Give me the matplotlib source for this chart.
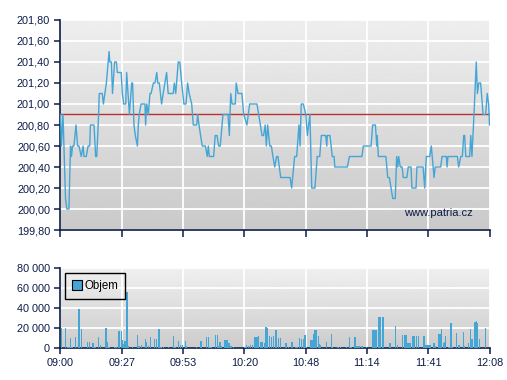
import matplotlib
matplotlib.use("Agg")
import matplotlib.pyplot as plt
import numpy as np
from matplotlib.ticker import FuncFormatter
from matplotlib.lines import Line2D

plt.rcParams['font.family'] = ['Liberation Sans', 'DejaVu Sans']

# price trace, minutes after 09:00
price_t = [0.0, 0.4, 1.1, 2.2, 2.8, 3.7, 4.4, 4.8, 5.3, 5.9, 6.8, 7.5, 8.1, 9.1, 9.9,
           10.3, 11.3, 12.1, 12.8, 13.1, 14.7, 15.4, 15.9, 16.7, 17.0, 18.3, 18.8, 20.1,
           21.3, 21.6, 22.3, 22.8, 23.7, 24.5, 24.9, 26.6, 27.1, 27.7, 28.6, 29.0, 30.2,
           31.2, 31.6, 32.2, 32.8, 33.7, 34.1, 34.5, 35.3, 37.0, 37.3, 37.8, 38.5, 39.2,
           39.7, 40.7, 41.4, 42.2, 42.6, 43.3, 44.3, 45.0, 46.5, 47.2, 49.4, 49.9, 50.5,
           51.6, 52.3, 53.1, 54.1, 55.0, 55.7, 56.4, 57.5, 58.2, 59.7, 60.1, 60.7, 61.4,
           62.1, 63.5, 64.3, 64.8, 65.2, 67.1, 67.8, 68.6, 69.3, 70.0, 71.2, 73.4, 74.0,
           74.6, 75.2, 76.6, 77.0, 77.8, 79.5, 80.3, 81.7, 82.9, 86.1, 87.6, 88.3, 89.0,
           89.7, 90.2, 90.8, 91.7, 92.4, 93.1, 93.9, 94.7, 95.3, 96.5, 100.6, 101.3, 102.6,
           103.5, 104.5, 105.0, 105.5, 106.4, 107.5, 108.2, 109.3, 110.1, 111.5, 112.5,
           113.6, 114.3, 116.2, 116.7, 116.9, 118.1, 119.1, 119.9, 120.2, 125.7, 126.6,
           132.1, 132.7, 136.1, 136.8, 138.0, 138.6, 138.8, 139.3, 142.6, 143.4, 144.1,
           145.6, 146.7, 147.3, 147.8, 148.2, 148.9, 149.7, 150.2, 151.8, 152.4, 153.6,
           154.0, 155.8, 156.2, 158.9, 159.6, 160.3, 161.8, 162.5, 163.7, 164.2, 166.6,
           167.2, 169.1, 169.4, 169.8, 173.9, 174.5, 175.4, 176.1, 176.7, 177.1, 177.6,
           179.3, 179.8, 180.3, 181.2, 182.2, 182.7, 183.3, 184.1, 185.2, 186.3, 187.0,
           187.6, 188.0]
price_v = [200.9, 200.6, 200.9, 200.1, 200.0, 200.0, 200.6, 200.5, 200.6, 200.6, 200.8,
           200.6, 200.6, 200.5, 200.6, 200.5, 200.5, 200.6, 200.6, 200.8, 200.8, 200.5,
           200.5, 200.9, 201.1, 201.1, 201.0, 201.2, 201.5, 201.4, 201.4, 201.1, 201.4,
           201.4, 201.3, 201.3, 201.1, 201.0, 201.0, 201.3, 200.9, 201.2, 201.2, 200.8,
           200.7, 200.6, 200.8, 200.9, 201.0, 201.0, 200.8, 201.0, 200.9, 201.1, 201.1,
           201.2, 201.2, 201.3, 201.2, 201.2, 201.0, 201.1, 201.3, 201.1, 201.1, 201.2,
           201.1, 201.4, 201.4, 201.2, 201.0, 201.0, 201.2, 201.1, 201.0, 200.8, 200.8,
           200.9, 200.8, 200.7, 200.6, 200.6, 200.5, 200.6, 200.5, 200.5, 200.7, 200.7,
           200.6, 200.6, 200.9, 200.9, 200.7, 201.1, 201.0, 201.0, 201.2, 201.1, 201.1,
           200.9, 200.8, 201.0, 201.0, 200.8, 200.7, 200.7, 200.8, 200.6, 200.8, 200.6,
           200.6, 200.5, 200.4, 200.5, 200.5, 200.3, 200.3, 200.2, 200.5, 200.5, 200.8,
           200.6, 201.0, 201.0, 200.9, 200.7, 200.9, 200.2, 200.2, 200.5, 200.5, 200.7,
           200.7, 200.6, 200.7, 200.7, 200.5, 200.5, 200.4, 200.4, 200.5, 200.5, 200.6,
           200.6, 200.8, 200.8, 200.6, 200.7, 200.5, 200.5, 200.3, 200.3, 200.1, 200.1,
           200.5, 200.4, 200.5, 200.4, 200.4, 200.3, 200.3, 200.4, 200.4, 200.2, 200.2,
           200.4, 200.4, 200.2, 200.5, 200.5, 200.6, 200.3, 200.4, 200.4, 200.5, 200.5,
           200.4, 200.5, 200.5, 200.4, 200.5, 200.5, 200.7, 200.7, 200.5, 200.5, 200.7,
           200.5, 200.9, 201.4, 201.1, 201.2, 201.2, 200.9, 200.9, 201.1, 201.0, 200.8]

vol_t = [0.4, 2.1, 3.1, 3.7, 4.3, 5.0, 6.5, 7.9, 8.2, 9.1, 11.7, 12.6, 13.9, 14.5, 15.1,
         16.7, 17.4, 20.0, 20.5, 21.3, 23.9, 24.5, 25.3, 25.9, 26.6, 27.0, 27.7, 28.3,
         29.1, 29.6, 31.5, 33.7, 34.4, 35.4, 37.2, 37.7, 38.7, 39.5, 41.2, 42.1, 42.9,
         43.4, 44.0, 45.2, 47.2, 49.4, 50.2, 51.6, 52.5, 53.4, 54.7, 55.1, 59.7, 61.3,
         61.9, 64.1, 64.8, 65.5, 66.1, 68.0, 68.7, 69.3, 69.9, 70.6, 72.0, 72.4, 72.9,
         73.8, 74.7, 75.8, 80.9, 81.6, 82.4, 83.4, 84.1, 85.2, 85.8, 86.3, 86.8, 87.6,
         88.3, 89.4, 90.1, 90.6, 91.5, 92.6, 93.3, 94.1, 94.7, 95.4, 96.3, 98.5, 99.1,
         99.9, 101.2, 101.8, 102.9, 103.6, 104.7, 105.7, 106.4, 107.1, 107.7, 109.8,
         110.4, 110.8, 111.3, 111.9, 112.3, 113.0, 113.5, 114.0, 116.7, 118.8, 119.3,
         121.3, 121.9, 122.8, 125.4, 126.6, 127.3, 129.1, 129.6, 130.4, 131.1, 131.8,
         132.4, 134.2, 136.8, 137.4, 138.0, 138.6, 139.4, 140.0, 141.0, 141.6, 144.4,
         146.9, 147.8, 150.0, 150.7, 151.4, 152.1, 152.7, 153.4, 154.3, 154.9, 156.1,
         156.8, 159.3, 160.2, 161.0, 161.9, 163.7, 164.4, 165.9, 166.5, 167.1, 167.8,
         168.2, 168.8, 169.9, 170.7, 171.1, 171.9, 173.6, 174.6, 176.5, 177.1, 178.7,
         179.8, 180.3, 181.6, 182.1, 182.4, 182.8, 183.5, 186.2]
vol_v = [20500, 20000, 1500, 1500, 10500, 1200, 11500, 39000, 39000, 19300, 6000, 6000,
         5300, 5300, 1000, 11500, 2700, 20300, 6000, 1000, 1000, 1000, 17300, 17300, 17300,
         8500, 4000, 7300, 56000, 2500, 1000, 13000, 2000, 2700, 9300, 6000, 2000, 11000,
         9300, 9300, 19300, 19300, 1000, 1000, 1000, 12300, 1000, 7000, 2700, 2700, 7000,
         2000, 1000, 6700, 6700, 11300, 11300, 1300, 1300, 13300, 13300, 2000, 6000, 2000,
         8300, 8300, 8300, 5000, 1700, 1000, 1300, 2700, 1700, 2700, 2700, 11300, 11300,
         11300, 12300, 6000, 6000, 5000, 21000, 20300, 12300, 11300, 12300, 18300, 18300,
         10000, 10000, 5300, 5300, 1000, 6300, 6300, 1000, 1000, 10000, 9300, 9300, 13300,
         1000, 8300, 8300, 14300, 18300, 18300, 12300, 12300, 4000, 3300, 6000, 14300, 1000,
         1000, 1000, 1000, 1000, 11300, 1300, 11300, 2000, 2000, 2000, 2000, 2000, 1300,
         18300, 18300, 18300, 18300, 30700, 30700, 30700, 30700, 4700, 22300, 3300, 13300,
         13300, 13300, 5000, 5000, 5300, 12300, 12300, 12300, 12300, 12300, 2700, 2700,
         2700, 5300, 1700, 14300, 14300, 19300, 5300, 6000, 12300, 1300, 1300, 25000, 1300,
         15000, 3300, 15700, 2000, 4700, 19000, 9300, 25700, 25700, 27000, 25000, 9300,
         20300]

ref_price = 200.90
x_ticks = np.linspace(0, 188, 8)
x_labels = ['09:00', '09:27', '09:53', '10:20', '10:48', '11:14', '11:41', '12:08']

navy = '#0c1c48'
blue = '#45a5d5'

fig = plt.figure(figsize=(5.07, 3.80), dpi=100)
ax = fig.add_axes([0.1193, 0.3947, 0.8462, 0.5527])
axv = fig.add_axes([0.1193, 0.0842, 0.8462, 0.2105])


def background(a, top, bottom):
    g = np.linspace(bottom, top, 256).reshape(-1, 1)
    a.imshow(g, extent=[0, 1, 0, 1], transform=a.transAxes, aspect='auto',
             cmap='gray', vmin=0, vmax=1, origin='lower', zorder=0)


for a in (ax, axv):
    a.set_axisbelow(True)
    a.grid(True, color='white', lw=1.3)
    for s in ('top', 'right'):
        a.spines[s].set_visible(False)
    for s in ('left', 'bottom'):
        a.spines[s].set_color(navy)
        a.spines[s].set_linewidth(1.2)
    a.tick_params(colors=navy, labelcolor=navy, labelsize=7.8, length=4, width=1.1)

background(ax, 0.935, 0.79)
background(axv, 0.94, 0.8)

ax.plot(price_t, price_v, color=blue, lw=1.0, zorder=3)
ax.axhline(ref_price, color='#b83030', lw=1.0, zorder=2)
ax.set_xlim(0, 188)
ax.set_ylim(199.8, 201.8)
ax.set_yticks(np.arange(199.8, 201.81, 0.2))
ax.yaxis.set_major_formatter(FuncFormatter(lambda v, p: f'{v:.2f}'.replace('.', ',')))
ax.set_xticks(x_ticks)
ax.set_xticklabels([])
ax.tick_params(axis='x', length=5)
ax.text(0.962, 0.08, 'www.patria.cz', transform=ax.transAxes, ha='right', va='center',
        fontsize=8, color=navy, zorder=4)

axv.bar(vol_t, vol_v, width=0.6, color=blue, lw=0, zorder=3)
axv.set_xlim(0, 188)
axv.set_ylim(0, 80000)
axv.set_yticks(np.arange(0, 80001, 20000))
axv.yaxis.set_major_formatter(FuncFormatter(lambda v, p: f'{int(v):,}'.replace(',', ' ')))
axv.set_xticks(x_ticks)
axv.set_xticklabels(x_labels)

handle = Line2D([], [], marker='s', ls='', markersize=6.5, markerfacecolor=blue,
                markeredgecolor='black', markeredgewidth=0.8)
leg = axv.legend([handle], ['Objem'], loc='upper left', bbox_to_anchor=(0.01, 0.94),
                 fontsize=8.3, frameon=True, fancybox=False, framealpha=1,
                 facecolor='none', edgecolor='black', handletextpad=0.2,
                 borderpad=0.6, handlelength=0.9, borderaxespad=0)
leg.get_frame().set_linewidth(1.0)

fig.savefig('out.png', dpi=100)
